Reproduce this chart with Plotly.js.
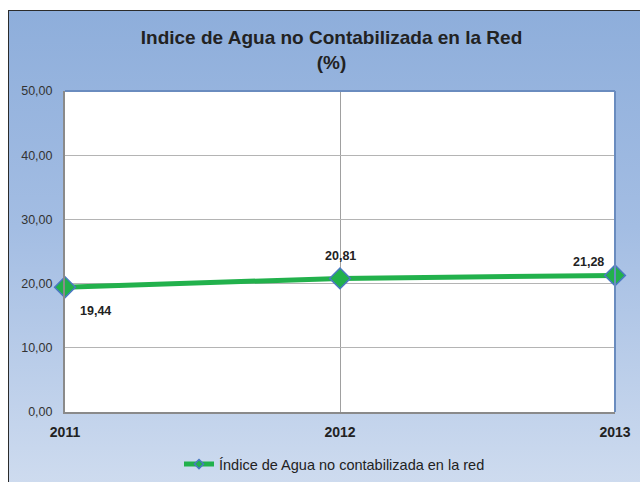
<!DOCTYPE html>
<html>
<head>
<meta charset="utf-8">
<script src="https://cdn.plot.ly/plotly-3.0.1.min.js"></script>
<style>
html,body{margin:0;padding:0;background:#fff;width:640px;height:482px;overflow:hidden;}
#bg{position:absolute;left:8px;top:10px;width:640px;height:480px;border-left:1.5px solid #2b2b2b;border-top:1.5px solid #2b2b2b;
background:linear-gradient(to bottom,#8eaedb 0%,#a3bde3 45%,#cfdcef 100%);}
#chart{position:absolute;left:0;top:0;width:640px;height:482px;}
</style>
</head>
<body>
<div id="bg"></div>
<div id="chart"></div>
<script>
const years = ['2011', '2012', '2013'];
const values = [19.44, 20.81, 21.28];
const labels = ['19,44', '20,81', '21,28'];
const seriesName = 'Índice de Agua no contabilizada en la red';
const yTicks = [0, 10, 20, 30, 40, 50];

const main = {
  x: years, y: values, type: 'scatter', mode: 'lines+markers',
  line: {color: '#22b14c', width: 5},
  marker: {symbol: 'diamond', size: 16, color: '#22b14c', line: {color: '#4a78c2', width: 1.5}},
  showlegend: false, cliponaxis: false, hoverinfo: 'none'
};
const legendTrace = {
  x: [null], y: [null], type: 'scatter', mode: 'lines+markers', name: seriesName,
  line: {color: '#22b14c', width: 5},
  marker: {symbol: 'diamond', size: 7, color: '#22b14c', line: {color: '#4a78c2', width: 1.5}},
  showlegend: true
};

const labelShift = [[30, 24], [0, -22], [-27, -13]];
const annotations = years.map((yr, i) => ({
  x: i, y: values[i], xref: 'x', yref: 'y', text: '<b>' + labels[i] + '</b>', showarrow: false,
  xshift: labelShift[i][0], yshift: -labelShift[i][1],
  font: {size: 12.5, color: '#222'}
}));

const layout = {
  width: 640, height: 482,
  paper_bgcolor: 'rgba(0,0,0,0)', plot_bgcolor: '#ffffff',
  margin: {l: 65, r: 25, t: 91, b: 70, autoexpand: false},
  separators: ',.',
  font: {family: 'Liberation Sans, Arial, sans-serif', color: '#222'},
  title: {text: '<b>Indice de Agua no Contabilizada en la Red<br>(%)</b>', x: 0.518, xanchor: 'center', y: 0.909, yanchor: 'top',
          font: {size: 19, color: '#222'}},
  xaxis: {type: 'category', range: [0, 2], showgrid: true, gridcolor: '#a0a0a0', gridwidth: 1,
          showline: true, linecolor: '#8a8a8a', linewidth: 2, zeroline: false, ticks: '',
          tickfont: {size: 14, color: '#222', weight: 'bold'}, ticklabelstandoff: 6, fixedrange: true},
  yaxis: {range: [0, 50], tickvals: yTicks, tickformat: '.2f', showgrid: true, gridcolor: '#b4b4b4', gridwidth: 1,
          showline: true, linecolor: '#8a8a8a', linewidth: 2, zeroline: false, ticks: '',
          tickfont: {size: 12.5, color: '#333'}, ticklabelstandoff: 8, fixedrange: true},
  shapes: [
    {type: 'line', xref: 'paper', yref: 'paper', x0: 0, x1: 1, y0: 1, y1: 1, line: {color: '#6a8cbf', width: 2}},
    {type: 'line', xref: 'paper', yref: 'paper', x0: 1, x1: 1, y0: 0, y1: 1, line: {color: '#6a8cbf', width: 2}}
  ],
  annotations: annotations,
  legend: {orientation: 'h', x: 0.49, xanchor: 'center', yref: 'container', y: 0.037, yanchor: 'middle', bgcolor: 'rgba(0,0,0,0)',
           font: {size: 14.5, color: '#222'}}
};

Plotly.newPlot('chart', [main, legendTrace], layout, {displayModeBar: false, staticPlot: true});
</script>
</body>
</html>
